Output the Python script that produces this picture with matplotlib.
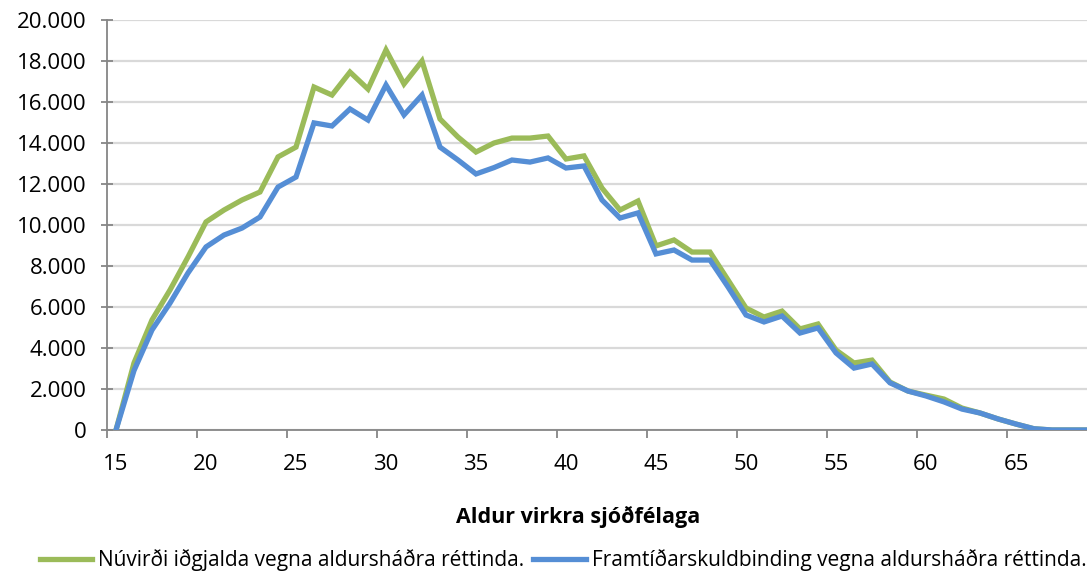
import matplotlib
matplotlib.use("Agg")
import matplotlib.pyplot as plt
from matplotlib.ticker import FuncFormatter, MultipleLocator

# Aldur virkra sjóðfélaga
ages = list(range(15, 70))

# Núvirði iðgjalda vegna aldursháðra réttinda
green_vals = [0, 3270, 5370, 6830, 8440, 10150, 10730, 11220, 11610, 13320,
              13800, 16730, 16340, 17460, 16630, 18540, 16880, 18000, 15170, 14290,
              13560, 14000, 14240, 14240, 14340, 13220, 13370, 11800, 10730, 11170,
              8980, 9270, 8680, 8680, 7320, 5950, 5510, 5800, 4930, 5170,
              3900, 3270, 3410, 2340, 1900, 1700, 1510, 1070, 830, 540,
              290, 60, 0, 0, 0]

# Framtíðarskuldbinding vegna aldursháðra réttinda
blue_vals = [0, 2900, 4880, 6190, 7660, 8930, 9510, 9850, 10390, 11850,
             12340, 14980, 14830, 15660, 15120, 16830, 15370, 16340, 13800, 13170,
             12490, 12800, 13170, 13070, 13270, 12780, 12880, 11220, 10340, 10590,
             8590, 8780, 8290, 8290, 6980, 5610, 5270, 5560, 4730, 4980,
             3760, 3020, 3220, 2300, 1900, 1660, 1370, 1020, 830, 540,
             290, 60, 0, 0, 0]

green_label = "Núvirði iðgjalda vegna aldursháðra réttinda."
blue_label = "Framtíðarskuldbinding vegna aldursháðra réttinda."
x_title = "Aldur virkra sjóðfélaga"

plt.rcParams['font.family'] = ['Open Sans', 'DejaVu Sans']

fig = plt.figure(figsize=(10.87, 5.73), dpi=100)
ax = fig.add_axes([107 / 1087, 143 / 573, 980 / 1087, 410 / 573])

ax.plot(ages, green_vals, color="#9BBB59", lw=3.8, label=green_label,
        solid_joinstyle="miter", zorder=3)
ax.plot(ages, blue_vals, color="#558ED5", lw=3.8, label=blue_label,
        solid_joinstyle="miter", zorder=4)

# category axis: each age is one slot, ticks on slot boundaries every 5
ax.set_xlim(14.5, 14.5 + 980 / 18)
ax.set_ylim(0, 20000)
ax.yaxis.set_major_locator(MultipleLocator(2000))
ax.yaxis.set_major_formatter(FuncFormatter(lambda v, p: f"{int(v):,}".replace(",", ".")))

ax.set_xticks([a - 0.5 for a in range(15, 70, 5)])
ax.set_xticklabels([])
ax.set_xticks(list(range(15, 70, 5)), minor=True)
ax.set_xticklabels([str(a) for a in range(15, 70, 5)], minor=True)
ax.tick_params(axis="x", which="minor", length=0, pad=17, labelsize=16)
ax.tick_params(axis="x", which="major", length=6, width=1.3, color="#868686")
ax.tick_params(axis="y", direction="inout", length=9, width=1.3, color="#868686",
               labelsize=16, pad=10)

ax.grid(axis="y", color="#D9D9D9", lw=1.6, zorder=0)
ax.set_axisbelow(True)
for s in ("top", "right"):
    ax.spines[s].set_visible(False)
for s in ("left", "bottom"):
    ax.spines[s].set_color("#868686")
    ax.spines[s].set_linewidth(1.3)

fig.text(578 / 1087, 1 - 517 / 573, x_title, ha="center", va="center",
         fontsize=15.5, fontweight="bold")

fig.legend(loc="center", bbox_to_anchor=(563 / 1087, 1 - 560 / 573), ncol=2,
           frameon=False, fontsize=15, handlelength=2.5, handletextpad=0.3,
           columnspacing=0.45, borderpad=0.1)

fig.savefig("out.png", dpi=100)
